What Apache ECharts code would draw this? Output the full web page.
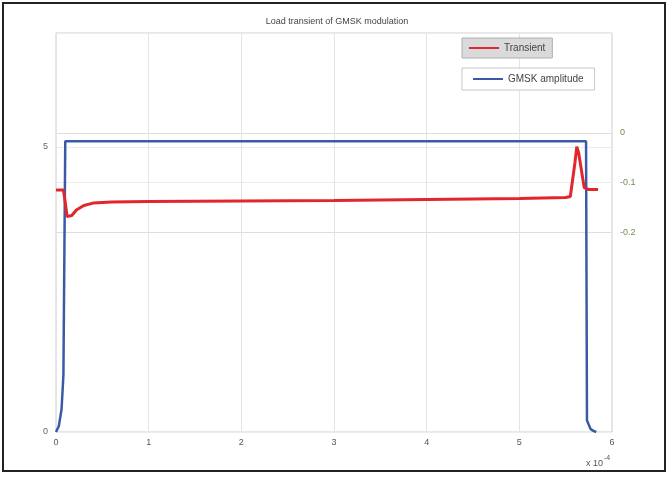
<!DOCTYPE html>
<html>
<head>
<meta charset="utf-8">
<script src="https://cdn.jsdelivr.net/npm/echarts@6/dist/echarts.min.js"></script>
<style>
  html, body { margin: 0; padding: 0; background: #fff; }
  #chart { width: 672px; height: 479px; }
</style>
</head>
<body>
<div id="chart"></div>
<script>
(function () {
    "use strict";

    // GMSK amplitude (left axis), x in units of 1e-4
    var ampX = [0, 0.03, 0.06, 0.08, 0.1, 0.5, 2, 4, 5.5, 5.72, 5.73, 5.77, 5.8, 5.83];
    var ampY = [0, 0.1, 0.4, 1.0, 5.1, 5.1, 5.1, 5.1, 5.1, 5.1, 0.2, 0.05, 0.02, 0];

    // Load transient (right axis)
    var trX = [0, 0.08, 0.1, 0.12, 0.14, 0.17, 0.22, 0.3, 0.4, 0.6, 1, 2, 3, 4, 5, 5.5, 5.55,
               5.6, 5.62, 5.64, 5.7, 5.75, 5.85];
    var trY = [-0.115, -0.115, -0.14, -0.168, -0.172, -0.166, -0.155, -0.146, -0.141, -0.139,
               -0.138, -0.137, -0.136, -0.134, -0.132, -0.13, -0.128, -0.06, -0.028, -0.04,
               -0.11, -0.114, -0.114];

    var rightLabels = [0, -0.1, -0.2];

    function pairs(xs, ys) {
        return xs.map(function (x, i) { return [x, ys[i]]; });
    }

    var myChart = echarts.init(document.getElementById('chart'));
    var font = 'Liberation Sans';

    var option = {
        animation: false,
        textStyle: { fontFamily: font },
        title: {
            text: 'Load transient of GMSK modulation',
            left: 332,
            top: 12,
            textAlign: 'center',
            textStyle: { fontSize: 9, fontWeight: 'normal', color: '#444', fontFamily: font }
        },
        legend: [
            {
                data: ['Transient'],
                left: 462, top: 38,
                backgroundColor: '#dadada',
                borderColor: '#b0b0b0', borderWidth: 1,
                padding: [5, 7],
                icon: 'rect', itemWidth: 30, itemHeight: 2, itemGap: 6,
                textStyle: { fontSize: 10, color: '#444', fontFamily: font }
            },
            {
                data: ['GMSK amplitude'],
                left: 462, top: 68,
                backgroundColor: '#fff',
                borderColor: '#c8c8c8', borderWidth: 1,
                padding: [6, 11],
                icon: 'rect', itemWidth: 30, itemHeight: 2, itemGap: 6,
                textStyle: { fontSize: 10, color: '#444', fontFamily: font }
            }
        ],
        grid: {
            left: 56, right: 60, top: 33, bottom: 47,
            show: true, borderColor: '#cfcfcf', borderWidth: 1
        },
        xAxis: {
            type: 'value', min: 0, max: 6, interval: 1,
            axisLine: { show: false },
            axisTick: { show: false },
            axisLabel: { fontSize: 9, color: '#555', margin: 6 },
            splitLine: { show: true, lineStyle: { color: '#e4e4e4', width: 1 } }
        },
        yAxis: [
            {
                type: 'value', min: 0, max: 7, interval: 5,
                axisLine: { show: false },
                axisTick: { show: false },
                axisLabel: { fontSize: 9, color: '#666', margin: 8, showMaxLabel: false },
                splitLine: { show: true, lineStyle: { color: '#ececec' } }
            },
            {
                type: 'value', min: -0.6, max: 0.2, interval: 0.1,
                position: 'right',
                axisLine: { show: false },
                axisTick: { show: false },
                axisLabel: {
                    fontSize: 9, color: '#6f8f50', margin: 8,
                    formatter: function (v) {
                        var r = Math.round(v * 10) / 10;
                        return rightLabels.indexOf(r) >= 0 ? String(r) : '';
                    }
                },
                splitLine: {
                    show: true,
                    lineStyle: {
                        color: ['rgba(0,0,0,0)', 'rgba(0,0,0,0)', 'rgba(0,0,0,0)', 'rgba(0,0,0,0)',
                                '#dedede', '#ececec', '#dedede', 'rgba(0,0,0,0)', 'rgba(0,0,0,0)']
                    }
                }
            }
        ],
        series: [
            {
                name: 'GMSK amplitude',
                type: 'line',
                yAxisIndex: 0,
                data: pairs(ampX, ampY),
                showSymbol: false,
                symbol: 'none',
                lineStyle: { color: '#3a5aa6', width: 2.5 },
                itemStyle: { color: '#3a5aa6' },
                z: 2
            },
            {
                name: 'Transient',
                type: 'line',
                yAxisIndex: 1,
                data: pairs(trX, trY),
                showSymbol: false,
                symbol: 'none',
                lineStyle: { color: '#e3262c', width: 3 },
                itemStyle: { color: '#e3262c' },
                z: 3
            }
        ],
        graphic: [
            {
                type: 'rect',
                shape: { x: 3, y: 3, width: 662, height: 468 },
                style: { fill: 'none', stroke: '#222', lineWidth: 2 },
                silent: true
            },
            {
                type: 'text',
                left: 586, top: 455,
                style: {
                    text: '{a|x 10}{b|-4}',
                    rich: {
                        a: { fontSize: 9, fill: '#555', fontFamily: font, padding: [4, 0, 0, 0] },
                        b: { fontSize: 7, fill: '#555', fontFamily: font, verticalAlign: 'top', padding: [0, 0, 6, 1] }
                    }
                }
            }
        ]
    };

    myChart.setOption(option);
})();
</script>
</body>
</html>
